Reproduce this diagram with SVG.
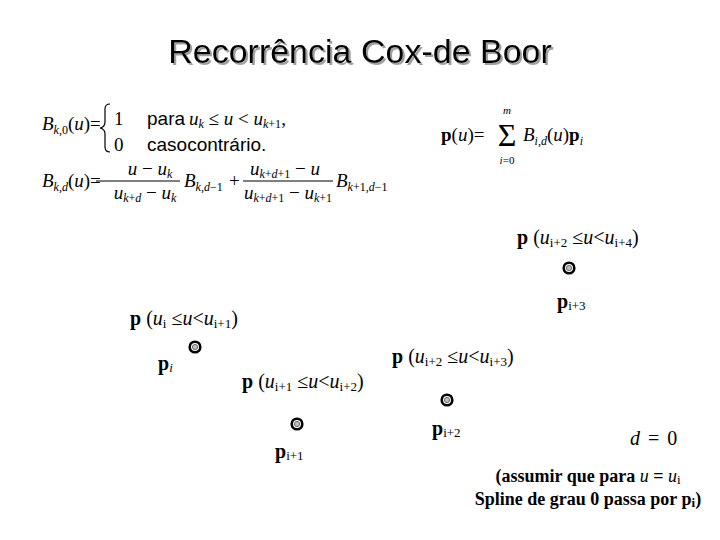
<svg xmlns="http://www.w3.org/2000/svg" width="720" height="540" viewBox="0 0 720 540">
<defs>
<style>
.title{font-family:"Liberation Sans",Arial,sans-serif;font-size:34px;fill:#000}
.m{font-family:"Liberation Serif","Times New Roman",serif;font-size:19px;fill:#000}
.mi{font-family:"Liberation Serif","Times New Roman",serif;font-size:19px;font-style:italic;fill:#000}
.s{font-size:12px}
.ar{font-family:"Liberation Sans",Arial,sans-serif;font-size:19px;fill:#000}
.lab{font-family:"Liberation Serif","Times New Roman",serif;font-size:20px;fill:#000}
.note{font-family:"Liberation Serif","Times New Roman",serif;font-size:18px;font-weight:bold;fill:#000}
.ls{font-size:13px}
.b{font-weight:bold}
.i{font-style:italic}
.n{font-style:normal}
.nw{font-weight:normal}
.bar{stroke:#000;stroke-width:1}
</style>
<filter id="sh" x="-5%" y="-20%" width="110%" height="140%">
<feDropShadow dx="2" dy="2" stdDeviation="0.4" flood-color="#a0a0a0" flood-opacity="1"/>
</filter>
<g id="pt">
<circle r="5.3" fill="#fff" stroke="#000" stroke-width="2.6"/>
<circle r="2.6" fill="#c0c0c0" stroke="#606060" stroke-width="0.9"/>
</g>
</defs>
<rect width="720" height="540" fill="#fff"/>
<g id="title">
<text class="title" x="360" y="63" text-anchor="middle" filter="url(#sh)">Recorrência Cox-de Boor</text>
</g>
<g id="formula1">
<text class="mi" x="42" y="130">B<tspan class="s" dy="4">k</tspan><tspan class="s n">,0</tspan><tspan class="n" dy="-4">(</tspan>u<tspan class="n">)=</tspan></text>
<path d="M110,104 q-5,0 -5,5 v13 q0,5 -5,6 q5,1 5,6 v13 q0,5 5,5" fill="none" stroke="#000" stroke-width="1.2"/>
<text class="m" x="114" y="125">1</text>
<text class="m" x="114" y="151">0</text>
<text class="ar" x="147" y="125">para<tspan class="mi" dx="4">u<tspan class="s" dy="3">k</tspan><tspan class="n" dy="-3"> ≤ </tspan>u<tspan class="n"> &lt; </tspan>u<tspan class="s" dy="3">k</tspan><tspan class="s n">+1</tspan><tspan class="n" dy="-3">,</tspan></tspan></text>
<text class="ar" x="147" y="151">casocontrário.</text>
</g>
<g id="formula2">
<text class="mi" x="42" y="187">B<tspan class="s" dy="4">k</tspan><tspan class="s n">,</tspan><tspan class="s">d</tspan><tspan class="n" dy="-4">(</tspan>u<tspan class="n">)=</tspan></text>
<text class="mi" x="150" y="175" text-anchor="middle">u<tspan class="n"> − </tspan>u<tspan class="s" dy="3">k</tspan></text>
<line class="bar" x1="96" y1="181" x2="180" y2="181"/>
<text class="mi" x="145" y="199" text-anchor="middle">u<tspan class="s" dy="3">k</tspan><tspan class="s n">+</tspan><tspan class="s">d</tspan><tspan class="n" dy="-3"> − </tspan>u<tspan class="s" dy="3">k</tspan></text>
<text class="mi" x="184" y="187">B<tspan class="s" dy="4">k</tspan><tspan class="s n">,</tspan><tspan class="s">d</tspan><tspan class="s n">−1</tspan></text>
<text class="m" x="229" y="187">+</text>
<text class="mi" x="285" y="175" text-anchor="middle">u<tspan class="s" dy="3">k</tspan><tspan class="s n">+</tspan><tspan class="s">d</tspan><tspan class="s n">+1</tspan><tspan class="n" dy="-3"> − </tspan>u</text>
<line class="bar" x1="243" y1="181" x2="333" y2="181"/>
<text class="mi" x="288" y="199" text-anchor="middle">u<tspan class="s" dy="3">k</tspan><tspan class="s n">+</tspan><tspan class="s">d</tspan><tspan class="s n">+1</tspan><tspan class="n" dy="-3"> − </tspan>u<tspan class="s" dy="3">k</tspan><tspan class="s n">+1</tspan></text>
<text class="mi" x="336" y="187">B<tspan class="s" dy="4">k</tspan><tspan class="s n">+1,</tspan><tspan class="s">d</tspan><tspan class="s n">−1</tspan></text>
</g>
<g id="formula3">
<text class="m" x="441" y="141"><tspan class="b">p</tspan>(<tspan class="i">u</tspan>)=</text>
<text class="m" x="507" y="146" style="font-size:32px" text-anchor="middle">Σ</text>
<text class="mi" x="507" y="114" style="font-size:11px" text-anchor="middle">m</text>
<text class="mi" x="507" y="164" style="font-size:11px" text-anchor="middle">i<tspan class="n">=0</tspan></text>
<text class="mi" x="523" y="141">B<tspan class="s" dy="4">i</tspan><tspan class="s n">,</tspan><tspan class="s">d</tspan><tspan class="n" dy="-4">(</tspan>u<tspan class="n">)</tspan><tspan class="n b">p</tspan><tspan class="s" dy="4">i</tspan></text>
</g>
<g id="nodes">
<g id="n0">
<text class="lab" x="130" y="325"><tspan class="b">p</tspan> (<tspan class="i">u</tspan><tspan class="ls" dy="3">i</tspan><tspan dy="-3"> ≤</tspan><tspan class="i">u</tspan>&lt;<tspan class="i">u</tspan><tspan class="ls" dy="3">i+1</tspan><tspan dy="-3">)</tspan></text>
<use href="#pt" x="195" y="347"/>
<text class="lab" x="158" y="370"><tspan class="b">p</tspan><tspan class="ls i" dy="2">i</tspan></text>
</g>
<g id="n1">
<text class="lab" x="242" y="388"><tspan class="b">p</tspan> (<tspan class="i">u</tspan><tspan class="ls" dy="3">i+1</tspan><tspan dy="-3"> ≤</tspan><tspan class="i">u</tspan>&lt;<tspan class="i">u</tspan><tspan class="ls" dy="3">i+2</tspan><tspan dy="-3">)</tspan></text>
<use href="#pt" x="297" y="424"/>
<text class="lab" x="275" y="458"><tspan class="b">p</tspan><tspan class="ls" dy="2">i+1</tspan></text>
</g>
<g id="n2">
<text class="lab" x="392" y="363"><tspan class="b">p</tspan> (<tspan class="i">u</tspan><tspan class="ls" dy="3">i+2</tspan><tspan dy="-3"> ≤</tspan><tspan class="i">u</tspan>&lt;<tspan class="i">u</tspan><tspan class="ls" dy="3">i+3</tspan><tspan dy="-3">)</tspan></text>
<use href="#pt" x="447" y="400"/>
<text class="lab" x="432" y="435"><tspan class="b">p</tspan><tspan class="ls" dy="2">i+2</tspan></text>
</g>
<g id="n3">
<text class="lab" x="517" y="244"><tspan class="b">p</tspan> (<tspan class="i">u</tspan><tspan class="ls" dy="3">i+2</tspan><tspan dy="-3"> ≤</tspan><tspan class="i">u</tspan>&lt;<tspan class="i">u</tspan><tspan class="ls" dy="3">i+4</tspan><tspan dy="-3">)</tspan></text>
<use href="#pt" x="569" y="268"/>
<text class="lab" x="557" y="308"><tspan class="b">p</tspan><tspan class="ls" dy="2">i+3</tspan></text>
</g>
</g>
<g id="connectors"></g>
<g id="notes">
<text class="lab" x="630" y="445" word-spacing="3"><tspan class="i">d</tspan> = 0</text>
<text class="note" x="588" y="482" text-anchor="middle">(assumir que para <tspan class="i nw">u</tspan> = <tspan class="i nw">u</tspan><tspan class="ls nw" dy="2">i</tspan></text>
<text class="note" x="588" y="505" text-anchor="middle">Spline de grau 0 passa por p<tspan class="ls" dy="2">i</tspan><tspan dy="-2">)</tspan></text>
</g>
</svg>
